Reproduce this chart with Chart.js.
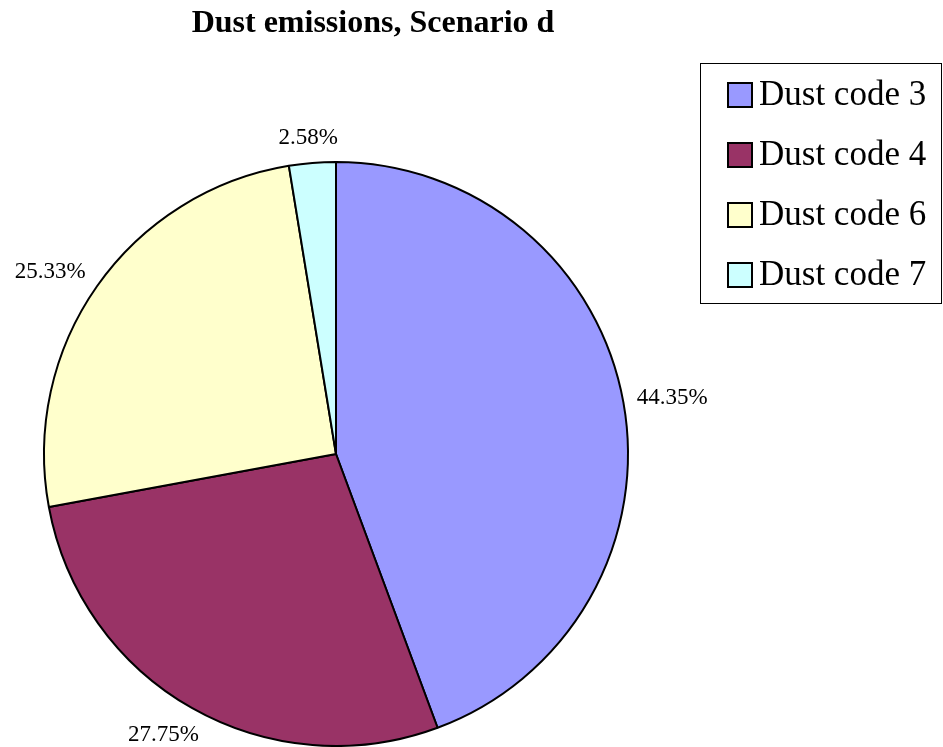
<!DOCTYPE html>
<html>
<head>
<meta charset="utf-8">
<script src="https://cdn.jsdelivr.net/npm/chart.js@4"></script>
<style>
    body { margin: 0; background: #fff; }
    #wrap { width: 943px; height: 747px; }
</style>
</head>
<body>
<div id="wrap"><canvas id="pieChart" width="943" height="747"></canvas></div>
<script>
const chartTitle = 'Dust emissions, Scenario d';
const categories = ['Dust code 3', 'Dust code 4', 'Dust code 6', 'Dust code 7'];
const shares = [44.35, 27.75, 25.33, 2.58];
const sliceColors = ['#9999FF', '#993366', '#FFFFCC', '#CCFFFF'];

const serif = '"Liberation Serif", "Times New Roman", serif';

// title, framed legend and outside percentage labels
const extras = {
    id: 'extras',
    afterDraw(chart) {
        const ctx = chart.ctx;
        ctx.save();

        ctx.fillStyle = '#000';
        ctx.font = 'bold 32px ' + serif;
        ctx.textAlign = 'center';
        ctx.textBaseline = 'alphabetic';
        ctx.fillText(chartTitle, 373, 32);

        // labels outside each slice
        ctx.font = '23px ' + serif;
        ctx.textAlign = 'center';
        ctx.textBaseline = 'middle';
        const meta = chart.getDatasetMeta(0);
        meta.data.forEach(function (arc, i) {
            const mid = (arc.startAngle + arc.endAngle) / 2;
            const cos = Math.cos(mid), sin = Math.sin(mid);
            const text = shares[i].toFixed(2) + '%';
            const w = ctx.measureText(text).width;
            const r = arc.outerRadius + 14;
            const x = arc.x + cos * (r + w / 2 + (cos < 0 ? 8 : 0));
            const y = Math.min(arc.y + sin * (r + 11) + (sin > 0.5 ? 6 : 0), chart.height - 12);
            ctx.fillText(text, x, y);
        });

        // legend box
        ctx.strokeStyle = '#000';
        ctx.lineWidth = 1;
        ctx.strokeRect(700.5, 63.5, 241, 240);
        ctx.font = '35px ' + serif;
        ctx.textAlign = 'left';
        ctx.textBaseline = 'middle';
        const rows = [95, 155, 215, 275];
        chart.data.labels.forEach(function (lab, i) {
            ctx.fillStyle = sliceColors[i];
            ctx.fillRect(728, rows[i] - 12, 24, 24);
            ctx.lineWidth = 2;
            ctx.strokeRect(728, rows[i] - 12, 24, 24);
            ctx.fillStyle = '#000';
            ctx.fillText(lab, 759, rows[i] + 1);
        });

        ctx.restore();
    }
};

new Chart(document.getElementById('pieChart'), {
    type: 'pie',
    data: {
        labels: categories,
        datasets: [{
            data: shares,
            backgroundColor: sliceColors,
            borderColor: '#000',
            borderWidth: 2,
        }],
    },
    options: {
        responsive: false,
        animation: false,
        events: [],
        layout: {
            padding: { left: 43, right: 314, top: 161, bottom: 0 },
        },
        plugins: {
            legend: { display: false },
            title: { display: false },
            tooltip: { enabled: false },
        },
    },
    plugins: [extras],
});
</script>
</body>
</html>
